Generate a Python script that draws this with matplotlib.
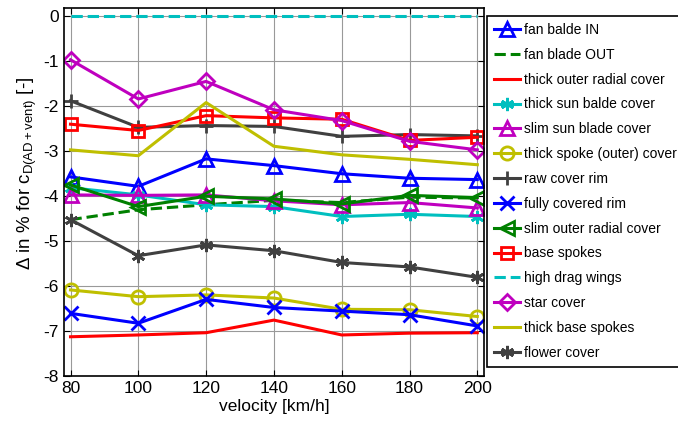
import matplotlib
matplotlib.use('Agg')
import matplotlib.pyplot as plt

plt.rcParams['font.family'] = ['Liberation Sans', 'DejaVu Sans']
plt.rcParams['mathtext.fontset'] = 'custom'
plt.rcParams['mathtext.rm'] = 'Liberation Sans'
plt.rcParams['axes.unicode_minus'] = False

velocity = [80, 100, 120, 140, 160, 180, 200]

fan_in = [-3.58, -3.79, -3.18, -3.33, -3.51, -3.61, -3.64]
fan_out = [-4.53, -4.31, -4.20, -4.10, -4.15, -4.03, -4.05]
thick_outer_radial = [-7.13, -7.09, -7.04, -6.76, -7.09, -7.05, -7.04]
thick_sun = [-3.82, -3.98, -4.20, -4.24, -4.46, -4.41, -4.46]
slim_sun = [-3.98, -3.99, -3.98, -4.11, -4.20, -4.15, -4.27]
thick_spoke_outer = [-6.09, -6.24, -6.20, -6.27, -6.52, -6.53, -6.68]
raw_rim = [-1.89, -2.48, -2.44, -2.46, -2.68, -2.64, -2.67]
fully_covered = [-6.61, -6.83, -6.30, -6.48, -6.56, -6.64, -6.89]
slim_outer_radial = [-3.76, -4.24, -4.01, -4.07, -4.18, -3.99, -4.04]
base_spokes = [-2.41, -2.55, -2.22, -2.27, -2.30, -2.77, -2.70]
high_drag = [0, 0, 0, 0, 0, 0, 0]
star = [-0.98, -1.85, -1.46, -2.09, -2.33, -2.79, -2.98]
thick_base = [-2.98, -3.11, -1.93, -2.90, -3.09, -3.19, -3.31]
flower = [-4.53, -5.33, -5.09, -5.22, -5.48, -5.58, -5.81]

blue = (0, 0, 1)
green = (0, 0.5, 0)
red = (1, 0, 0)
cyan = (0, 0.75, 0.75)
magenta = (0.75, 0, 0.75)
yellow = (0.75, 0.75, 0)
gray = (0.25, 0.25, 0.25)
asterisk = (6, 2, 0)

series = [
    ('fan balde IN', fan_in, blue, '-', '^'),
    ('fan blade OUT', fan_out, green, '--', None),
    ('thick outer radial cover', thick_outer_radial, red, '-', None),
    ('thick sun balde cover', thick_sun, cyan, '-', asterisk),
    ('slim sun blade cover', slim_sun, magenta, '-', '^'),
    ('thick spoke (outer) cover', thick_spoke_outer, yellow, '-', 'o'),
    ('raw cover rim', raw_rim, gray, '-', '+'),
    ('fully covered rim', fully_covered, blue, '-', 'x'),
    ('slim outer radial cover', slim_outer_radial, green, '-', '<'),
    ('base spokes', base_spokes, red, '-', 's'),
    ('high drag wings', high_drag, cyan, '--', None),
    ('star cover', star, magenta, '-', 'D'),
    ('thick base spokes', thick_base, yellow, '-', None),
    ('flower cover', flower, gray, '-', asterisk),
]

fig = plt.figure(figsize=(6.78, 4.21), dpi=100)
ax = fig.add_axes([0.094, 0.107, 0.62, 0.874])

for label, vals, col, ls, mk in series:
    ms = 9.5
    if mk in ('D', 's'):
        ms = 8.5
    ax.plot(velocity, vals, color=col, linestyle=ls, linewidth=2.2,
            marker=mk, markersize=ms, markerfacecolor='none',
            markeredgewidth=2, label=label)

ax.set_xlim(78, 202)
ax.set_ylim(-8, 0.17)
ax.set_xticks(velocity)
ax.set_yticks(range(-8, 1))
ax.grid(True, color='0.6', linewidth=0.8)
ax.set_axisbelow(True)
ax.tick_params(direction='in', top=True, right=True, labelsize=12.5, length=4)
for sp in ax.spines.values():
    sp.set_linewidth(1.2)

ax.set_xlabel('velocity [km/h]', fontsize=12.5, labelpad=2)
ax.set_ylabel(r'Δ in % for c$_{\mathrm{D(AD+vent)}}$ [-]', fontsize=13.5)
ax.yaxis.set_label_coords(-0.058, 0.55)

leg = ax.legend(loc='upper left', bbox_to_anchor=(0.718, 0.962),
                bbox_transform=fig.transFigure, fontsize=10,
                fancybox=False, edgecolor='black', framealpha=1,
                handlelength=1.9, labelspacing=0.78, borderaxespad=0,
                handletextpad=0.3, borderpad=0.5)
leg.get_frame().set_linewidth(1.2)

fig.savefig('out.png', dpi=100)
